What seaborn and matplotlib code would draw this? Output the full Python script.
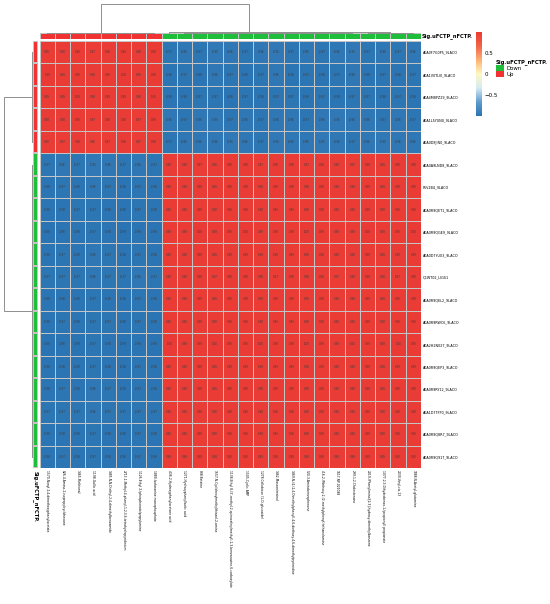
import matplotlib
matplotlib.use("Agg")
import matplotlib.pyplot as plt
import numpy as np
import pandas as pd
import seaborn as sns
from matplotlib.colors import LinearSegmentedColormap, ListedColormap
from matplotlib.patches import Patch

# Row / column names
genes = ["A0A0F7G0P5_9LACO", "A0A1V0TLI0_9LACO", "A0A4M8PZ29_9LACO", "A0A1L5YUN0_9LACO",
         "A0A0D8JIN0_9LACO", "A0A0A9LND8_9LACO", "F5V2B4_9LACO", "A0A0R9QET1_9LACO",
         "A0A0R9QGE9_9LACO", "A0A0D7YUX3_9LACO", "Q1WT02_LIGS1", "A0A0R9QEL2_9LACO",
         "A0A0R9RWC6_9LACO", "A0A2H2N027_9LACO", "A0A0R9QEP3_9LACO", "A0A0R9RY12_9LACO",
         "A0A1D7TPP0_9LACO", "A0A0R9Q8R7_9LACO", "A0A0R9Q917_9LACO"]
metabolites = ["1570-Nonyl 2,4-dimethoxyphenylacetate",
               "826-4-Amino-2-isopropylcyclohexane",
               "1465-Methional",
               "1198-Gallic acid",
               "1485-N,N-Diethyl-2,4-dimethylbenzamide",
               "2713-1-Methyl-4-phenyl-1,2,3,6-tetrahydropyridinium",
               "1126-Ethyl 2-(phosphonato)propylamine",
               "1889-Isofaranine monophosphate",
               "436-2-Hydroxyphenylacetone acid",
               "1271-Hydroxyphenyllactic acid",
               "838-Betaine",
               "1557-N-Cyclohexylmethylthiazol-2-amine",
               "1138-Ethyl 8-(3'-methyl-2-quinoxalinylmethyl)-1,3-benzoxazine-6-carboxylate",
               "1505-Cyclic AMP",
               "1278-Cellobiose (1-O-glucoside)",
               "1462-Massoniresinol",
               "1469-N-(4-(2,4-Dimethylphenyl)-4,6-diethoxy-4,6-dimethylpyrimidine",
               "520-3-Aminobenzophenone",
               "416-2-(Methoxy-2-(2-methylphenyl))ethanolamine",
               "1617-NP-021088",
               "299-1,2-Cholestenone",
               "2019-(Phenylimino)[2,3]-hydroxy-dimethylbenzene",
               "1077-2,3-Dihydrobenzo-1-(propionyl) propionate",
               "2030-Vinyl-cis-13",
               "1888-N-Acetyl-glutamine"]

# Up / Down annotation of rows and columns
gene_sig = ["Up"] * 5 + ["Down"] * 14
metab_sig = ["Up"] * 8 + ["Down"] * 17

# Correlation values (row by row)
corr = [
    [0.99, 0.98, 0.99, 0.97, 0.98, 0.99, 0.98, 0.99, -0.97, -0.96, -0.97, -0.95, -0.96, -0.97, -0.96, -0.95, -0.97, -0.96, -0.97, -0.96, -0.95, -0.97, -0.96, -0.97, -0.96],
    [1.00, 0.99, 0.99, 0.98, 0.99, 1.00, 0.99, 0.99, -0.98, -0.97, -0.98, -0.96, -0.97, -0.98, -0.97, -0.96, -0.98, -0.97, -0.98, -0.97, -0.96, -0.98, -0.97, -0.98, -0.97],
    [0.99, 0.99, 1.00, 0.98, 0.99, 0.99, 0.98, 1.00, -0.98, -0.98, -0.97, -0.97, -0.98, -0.97, -0.98, -0.97, -0.97, -0.98, -0.97, -0.98, -0.97, -0.97, -0.98, -0.97, -0.98],
    [0.98, 0.98, 0.99, 0.97, 0.98, 0.98, 0.97, 0.99, -0.96, -0.97, -0.96, -0.95, -0.97, -0.96, -0.97, -0.96, -0.96, -0.97, -0.96, -0.95, -0.96, -0.96, -0.97, -0.96, -0.97],
    [0.98, 0.97, 0.98, 0.96, 0.97, 0.98, 0.97, 0.98, -0.97, -0.96, -0.96, -0.96, -0.95, -0.96, -0.97, -0.95, -0.96, -0.96, -0.95, -0.96, -0.97, -0.96, -0.95, -0.96, -0.96],
    [-0.97, -0.96, -0.97, -0.95, -0.96, -0.97, -0.96, -0.97, 0.98, 0.98, 0.97, 0.98, 0.99, 0.98, 0.97, 0.98, 0.98, 0.97, 0.98, 0.98, 0.97, 0.98, 0.99, 0.98, 0.98],
    [-0.98, -0.97, -0.98, -0.96, -0.97, -0.98, -0.97, -0.98, 0.99, 0.98, 0.98, 0.99, 0.99, 0.98, 0.98, 0.99, 0.98, 0.98, 0.99, 0.98, 0.98, 0.99, 0.99, 0.98, 0.99],
    [-0.98, -0.98, -0.97, -0.97, -0.98, -0.98, -0.97, -0.98, 0.99, 0.99, 0.99, 0.98, 0.99, 0.99, 0.98, 0.99, 0.99, 0.99, 0.98, 0.99, 0.99, 0.98, 0.99, 0.99, 0.99],
    [-0.99, -0.98, -0.98, -0.97, -0.98, -0.99, -0.98, -0.98, 0.99, 0.99, 1.00, 0.99, 0.99, 1.00, 0.99, 0.99, 0.99, 1.00, 0.99, 0.99, 0.99, 1.00, 0.99, 0.99, 1.00],
    [-0.98, -0.97, -0.98, -0.96, -0.97, -0.98, -0.97, -0.98, 0.99, 0.98, 0.99, 0.99, 0.98, 0.99, 0.99, 0.98, 0.99, 0.99, 0.98, 0.99, 0.98, 0.99, 0.99, 0.98, 0.99],
    [-0.97, -0.97, -0.97, -0.96, -0.97, -0.97, -0.96, -0.97, 0.98, 0.98, 0.98, 0.97, 0.98, 0.98, 0.98, 0.97, 0.98, 0.98, 0.98, 0.97, 0.98, 0.98, 0.98, 0.97, 0.98],
    [-0.98, -0.98, -0.98, -0.97, -0.98, -0.98, -0.97, -0.98, 0.99, 0.99, 0.99, 0.99, 0.99, 0.98, 0.99, 0.99, 0.99, 0.99, 0.99, 0.98, 0.99, 0.99, 0.99, 0.99, 0.98],
    [-0.98, -0.97, -0.98, -0.97, -0.97, -0.98, -0.97, -0.98, 0.99, 0.99, 0.98, 0.99, 0.99, 0.99, 0.98, 0.99, 0.99, 0.99, 0.98, 0.99, 0.99, 0.99, 0.98, 0.99, 0.99],
    [-0.99, -0.98, -0.99, -0.97, -0.98, -0.99, -0.98, -0.99, 1.00, 0.99, 0.99, 1.00, 0.99, 0.99, 1.00, 0.99, 0.99, 1.00, 0.99, 0.99, 1.00, 0.99, 0.99, 1.00, 0.99],
    [-0.98, -0.98, -0.98, -0.97, -0.98, -0.98, -0.97, -0.98, 0.99, 0.99, 0.99, 0.99, 0.98, 0.99, 0.99, 0.99, 0.99, 0.98, 0.99, 0.99, 0.99, 0.99, 0.98, 0.99, 0.99],
    [-0.98, -0.97, -0.98, -0.96, -0.97, -0.98, -0.97, -0.98, 0.99, 0.98, 0.99, 0.99, 0.99, 0.99, 0.98, 0.99, 0.99, 0.99, 0.99, 0.98, 0.99, 0.98, 0.99, 0.99, 0.98],
    [-0.97, -0.97, -0.97, -0.96, -0.97, -0.97, -0.97, -0.97, 0.98, 0.99, 0.98, 0.98, 0.98, 0.99, 0.98, 0.98, 0.98, 0.99, 0.98, 0.98, 0.98, 0.99, 0.98, 0.98, 0.98],
    [-0.98, -0.98, -0.98, -0.97, -0.98, -0.98, -0.97, -0.98, 0.99, 0.99, 0.99, 0.99, 0.99, 0.99, 0.99, 0.99, 0.98, 0.99, 0.99, 0.99, 0.99, 0.99, 0.99, 0.98, 0.99],
    [-0.98, -0.97, -0.98, -0.97, -0.98, -0.98, -0.97, -0.98, 0.99, 0.99, 0.99, 0.98, 0.99, 0.99, 0.99, 0.98, 0.99, 0.99, 0.99, 0.98, 0.99, 0.99, 0.99, 0.98, 0.99],
]

# Cluster trees: (height, left, right); an int is a tight group of that many leaves
gene_tree = (1.0, 5, 14)
metab_tree = (1.0, 8, (0.05, 1, (0.03, 12, 4)))

df = pd.DataFrame(corr, index=genes, columns=metabolites)

W, H = 550, 604
fig = plt.figure(figsize=(W / 100, H / 100), dpi=100)


def box(x0, y0, x1, y1):
    # pixel box -> figure fraction
    return [x0 / W, 1 - y1 / H, (x1 - x0) / W, (y1 - y0) / H]


heat_cmap = LinearSegmentedColormap.from_list(
    "corr", ["#2b74b3", "#5e9ccb", "#d5ebf3", "#fcf8c0", "#fbb275", "#f26446", "#ea3a35"])
sig_colors = {"Down": "#1fbe3a", "Up": "#f03232"}
sig_cmap = ListedColormap([sig_colors["Down"], sig_colors["Up"]])
grid_col = "#c4c4c4"
tree_col = "#8f8f8f"

ax = fig.add_axes(box(39.5, 41, 421, 468))
cax = fig.add_axes(box(476, 32, 482, 116))
sns.heatmap(df, ax=ax, cmap=heat_cmap, vmin=df.values.min(), vmax=df.values.max(),
            annot=True, fmt=".2f", annot_kws={"fontsize": 1.9, "color": "#3c3c3c"},
            linewidths=0.5, linecolor=grid_col, cbar_ax=cax,
            xticklabels=metabolites, yticklabels=genes)
ax.yaxis.tick_right()
ax.tick_params(length=0, pad=1.2)
ax.set_yticklabels(genes, rotation=0, fontsize=2.4, ha="left")
ax.set_xticklabels(metabolites, rotation=-90, fontsize=2.15, ha="center", va="top")
ax.set_xlabel("")
ax.set_ylabel("")

cbar = ax.collections[0].colorbar
cbar.outline.set_visible(False)
cbar.set_ticks([-0.5, 0, 0.5])
cbar.set_ticklabels(["\u22120.5", "0", "0.5"])
cax.tick_params(length=0, labelsize=4.0, pad=2)

# Annotation bars
col_anno = fig.add_axes(box(39.5, 33.3, 421, 39))
sns.heatmap(pd.DataFrame([[1 if s == "Up" else 0 for s in metab_sig]]), ax=col_anno,
            cmap=sig_cmap, vmin=0, vmax=1, cbar=False, linewidths=0.5, linecolor=grid_col,
            xticklabels=False, yticklabels=False)
row_anno = fig.add_axes(box(33, 41, 37.5, 468))
sns.heatmap(pd.DataFrame([[1 if s == "Up" else 0] for s in gene_sig]), ax=row_anno,
            cmap=sig_cmap, vmin=0, vmax=1, cbar=False, linewidths=0.3, linecolor=grid_col,
            xticklabels=False, yticklabels=False)
fig.text(422 / W, 1 - 36.2 / H, "Sig.uFCTP_nFCTP.", fontsize=3.7, fontweight="bold",
         va="center", ha="left")
fig.text(35.2 / W, 1 - 471 / H, "Sig.uFCTP_nFCTP.", fontsize=3.7, fontweight="bold",
         rotation=-90, va="top", ha="center")


def draw_tree(ax, node, start, horizontal):
    # returns (position, height, leaves) of the node, draws U shaped links
    if isinstance(node, int):
        lo, hi = start + 0.5, start + node - 0.5
        h = 0.015
        if node > 1:
            seg = ([lo, hi], [h, h])
            if horizontal:
                ax.plot(seg[0], seg[1], color=tree_col, lw=0.7, clip_on=False)
            else:
                ax.plot(seg[1], seg[0], color=tree_col, lw=0.7, clip_on=False)
        return (lo + hi) / 2, (h if node > 1 else 0.0), node
    h, left, right = node
    p1, h1, n1 = draw_tree(ax, left, start, horizontal)
    p2, h2, n2 = draw_tree(ax, right, start + n1, horizontal)
    xs = [p1, p1, p2, p2]
    ys = [h1, h, h, h2]
    if horizontal:
        ax.plot(xs, ys, color=tree_col, lw=0.7, clip_on=False)
    else:
        ax.plot(ys, xs, color=tree_col, lw=0.7, clip_on=False)
    return (p1 + p2) / 2, h, n1 + n2


col_tree_ax = fig.add_axes(box(39.5, 3.5, 421, 33))
draw_tree(col_tree_ax, metab_tree, 0, True)
col_tree_ax.set_xlim(0, len(metabolites))
col_tree_ax.set_ylim(0, 1)
col_tree_ax.axis("off")

row_tree_ax = fig.add_axes(box(3.5, 41, 32, 468))
draw_tree(row_tree_ax, gene_tree, 0, False)
row_tree_ax.set_ylim(len(genes), 0)
row_tree_ax.set_xlim(1, 0)
row_tree_ax.axis("off")

# Legend for the annotation
handles = [Patch(facecolor=sig_colors[k], edgecolor="none", label=k) for k in ["Down", "Up"]]
leg = fig.legend(handles=handles, title="Sig.uFCTP_nFCTP.", loc="upper left",
                 bbox_to_anchor=(496 / W, 1 - 59 / H), frameon=False, fontsize=3.9,
                 title_fontproperties={"size": 3.8, "weight": "bold"}, alignment="left",
                 handlelength=1.5, handleheight=1.4, labelspacing=0.0, handletextpad=0.4,
                 borderpad=0, borderaxespad=0)

fig.savefig("out.png", dpi=100)
plt.close(fig)
